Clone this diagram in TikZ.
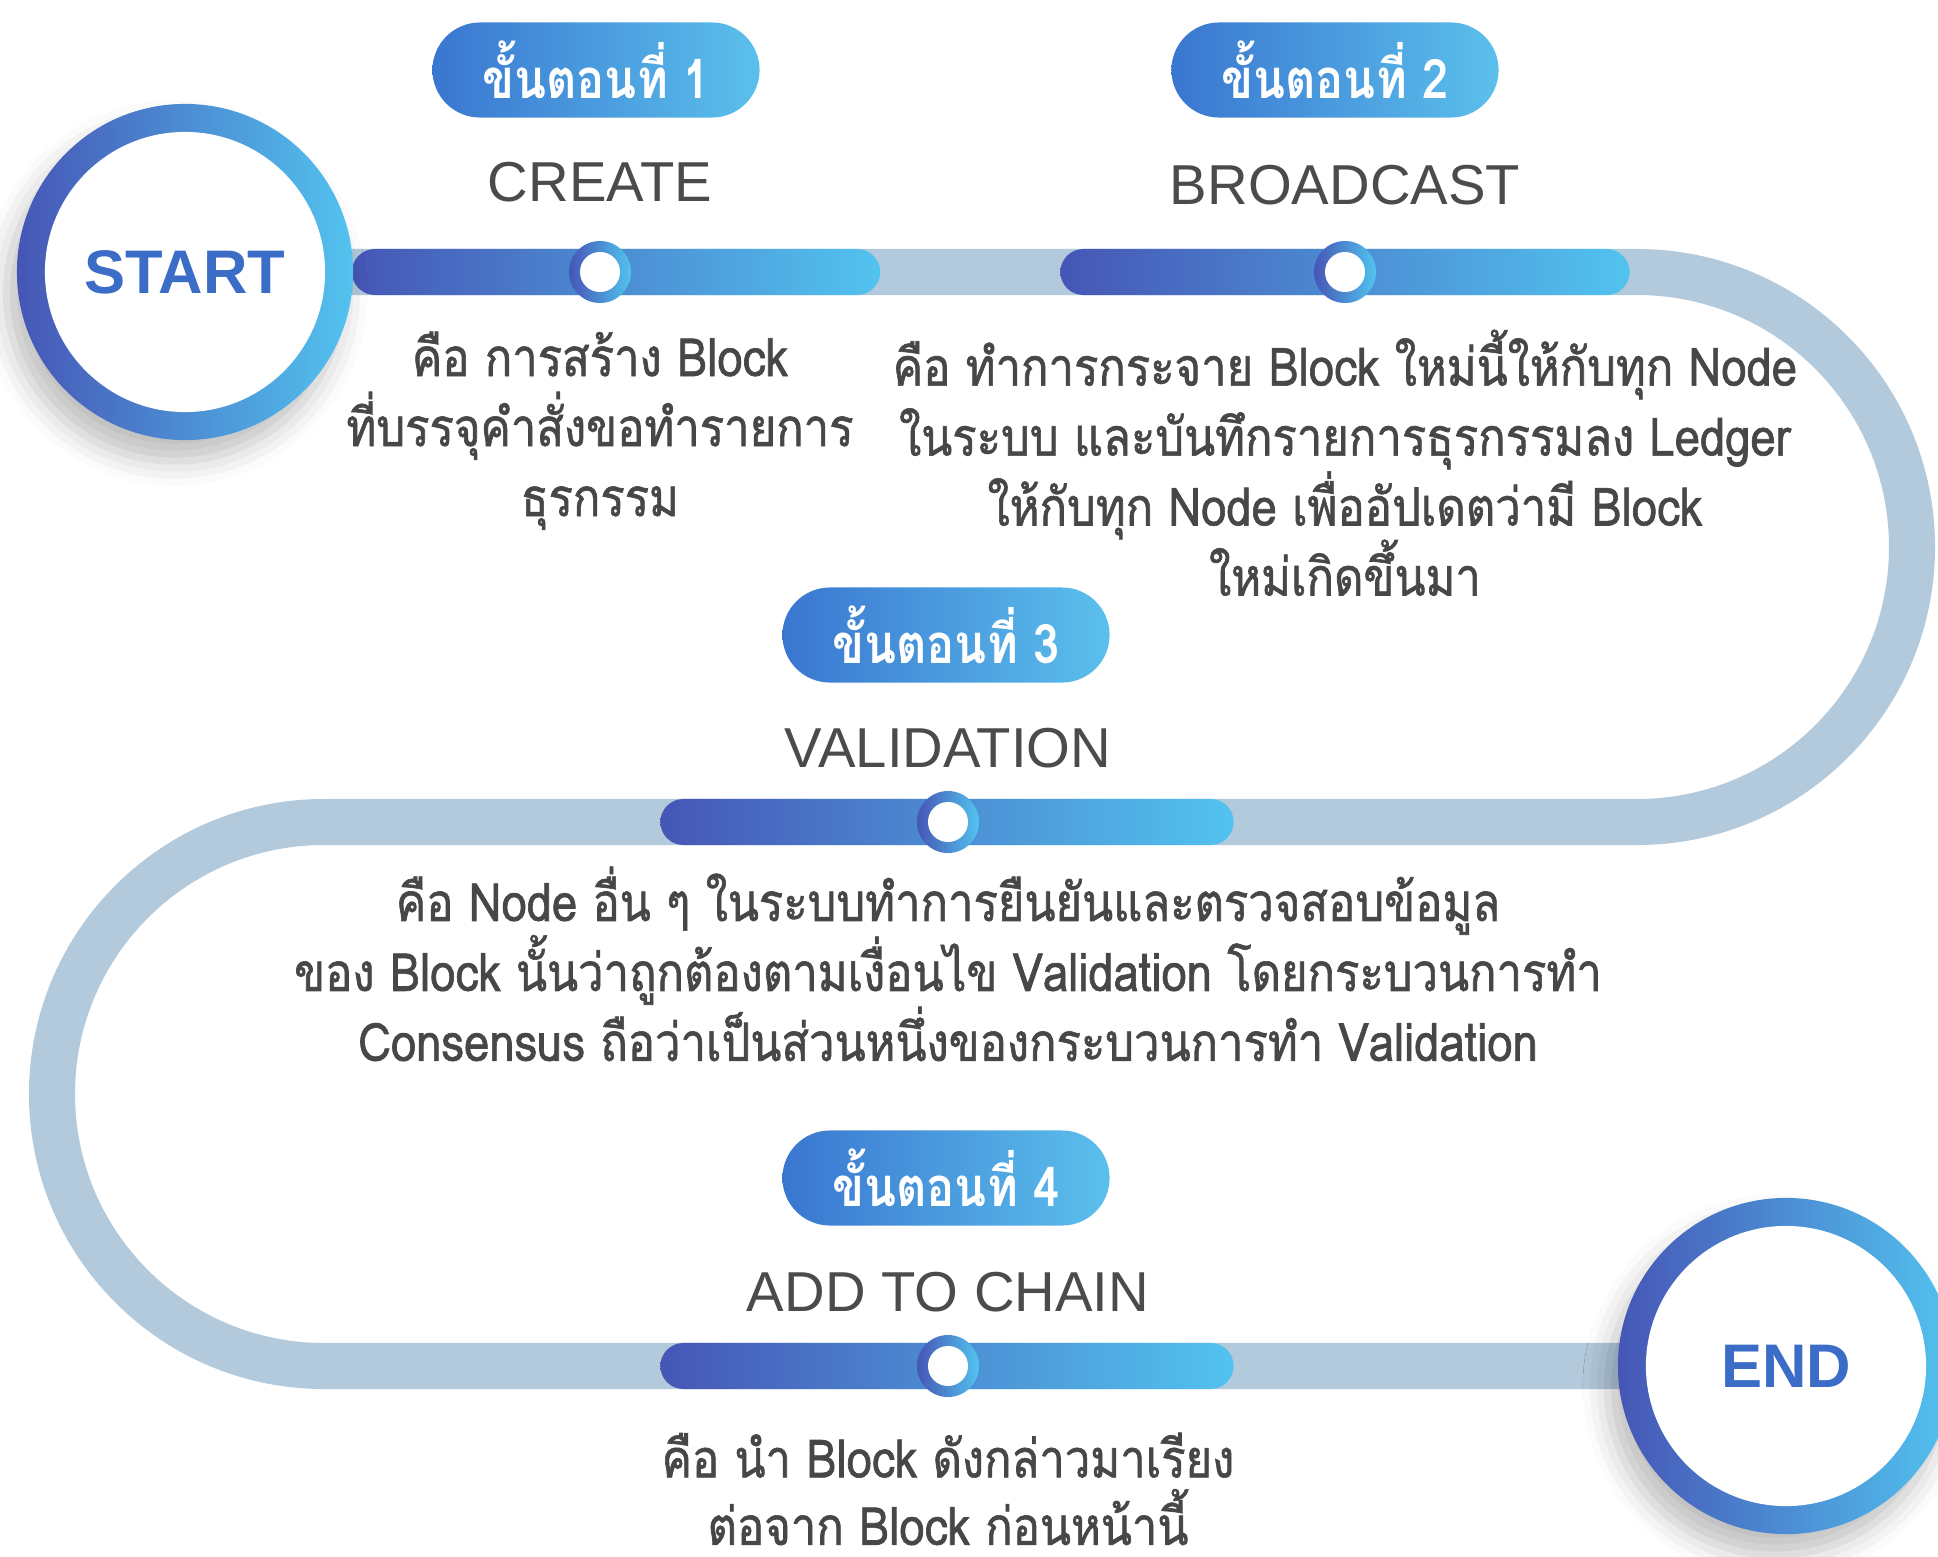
\documentclass[tikz,border=0pt]{standalone}
\usepackage{fontspec}
\setmainfont{Liberation Sans}
\newfontfamily\thaifont[Script=Thai, FakeStretch=0.86]{Loma}
\newfontfamily\thaimed[Script=Thai, FakeStretch=0.86, FakeBold=1.2]{Loma}
\usetikzlibrary{backgrounds,shadows.blur}
\definecolor{barL}{HTML}{4656B6}
\definecolor{barR}{HTML}{52C3EF}
\definecolor{pillL}{HTML}{3A76D0}
\definecolor{pillR}{HTML}{5BC0EC}
\definecolor{trackblue}{HTML}{B3C9DC}
\definecolor{hubblue}{HTML}{3B6CC6}
\definecolor{titlegray}{HTML}{4B4B4B}
\definecolor{descgray}{HTML}{474747}
\tikzset{
  track/.style={line width=0.46cm, color=trackblue},
  ring/.style={circle, minimum size=3.36cm, inner sep=0, left color=barL, right color=barR,
    blur shadow={shadow xshift=-3pt, shadow yshift=-6pt, shadow blur radius=7pt, shadow opacity=25}},
  hub/.style={circle, fill=white, minimum size=2.8cm, inner sep=0, text=hubblue,
    font=\bfseries\fontsize{17.5}{20}\selectfont},
  pill/.style={rounded corners=0.475cm, minimum width=3.27cm, minimum height=0.95cm, inner sep=0,
    left color=pillL, right color=pillR, text=white, font=\thaifont\bfseries\fontsize{15.5}{18}\selectfont},
  steptitle/.style={text=titlegray, inner sep=0, font=\fontsize{16}{18}\selectfont},
  bar/.style={rounded corners=0.23cm, minimum height=0.46cm, inner sep=0, left color=barL, right color=barR},
  dotring/.style={circle, minimum size=0.62cm, inner sep=0, left color=barL, right color=barR},
  dothole/.style={circle, minimum size=0.4cm, inner sep=0, fill=white},
  desc/.style={text=descgray, align=center, anchor=north, inner sep=0,
    font=\thaimed\fontsize{15}{19.9}\selectfont}
}
\begin{document}
\begin{tikzpicture}[x=0.01cm, y=-0.01cm]
\useasboundingbox (0,0) rectangle (1938,1557);
  \foreach \i/\x/\b/\w/\y/\p/\py/\ty/\t in {1/600/616/5.28/272/596/70/182/CREATE,
      2/1345/1345/5.69/272/1335/70/185/BROADCAST, 3/948/947/5.73/822/946/635/748/VALIDATION,
      4/948/947/5.73/1366/946/1178/1292/ADD TO CHAIN}{
    \node [bar, minimum width=\w cm] at (\b,\y) (b\i) {};
    \node [dotring] at (\x,\y) (d\i) {};
    \node [dothole] at (d\i) {};
    \node [pill] at (\p,\py) (p\i) {ขั้นตอนที่ \i};
    \node [steptitle] at (\x,\ty) (t\i) {\t};
  }
  \node [ring] at (185,272) (st) {};
  \node [hub] at (st) {START};
  \node [ring] at (1786,1366) (en) {};
  \node [hub] at (en) {END};
  \begin{scope}[on background layer]
    \draw [track] (st.center) -- (1637,272) arc [start angle=-90, end angle=90, radius=275]
      -- (324,822) arc [start angle=270, end angle=90, radius=272] -- (en.center);
  \end{scope}
  \node [desc] at (600,331) (c1) {คือ การสร้าง Block\\ที่บรรจุคำสั่งขอทำรายการ\\ธุรกรรม};
  \node [desc] at (1345,329) (c2) {คือ ทำการกระจาย Block ใหม่นี้ให้กับทุก Node\\ในระบบ และบันทึกรายการธุรกรรมลง Ledger\\ให้กับทุก Node เพื่ออัปเดตว่ามี Block\\ใหม่เกิดขึ้นมา};
  \node [desc] at (948,866) (c3) {คือ Node อื่น ๆ ในระบบทำการยืนยันและตรวจสอบข้อมูล\\ของ Block นั้นว่าถูกต้องตามเงื่อนไข Validation โดยกระบวนการทำ\\Consensus ถือว่าเป็นส่วนหนึ่งของกระบวนการทำ Validation};
  \node [desc, font=\thaimed\fontsize{15}{19.2}\selectfont] at (948,1432) (c4) {คือ นำ Block ดังกล่าวมาเรียง\\ต่อจาก Block ก่อนหน้านี้};
\end{tikzpicture}
\end{document}
